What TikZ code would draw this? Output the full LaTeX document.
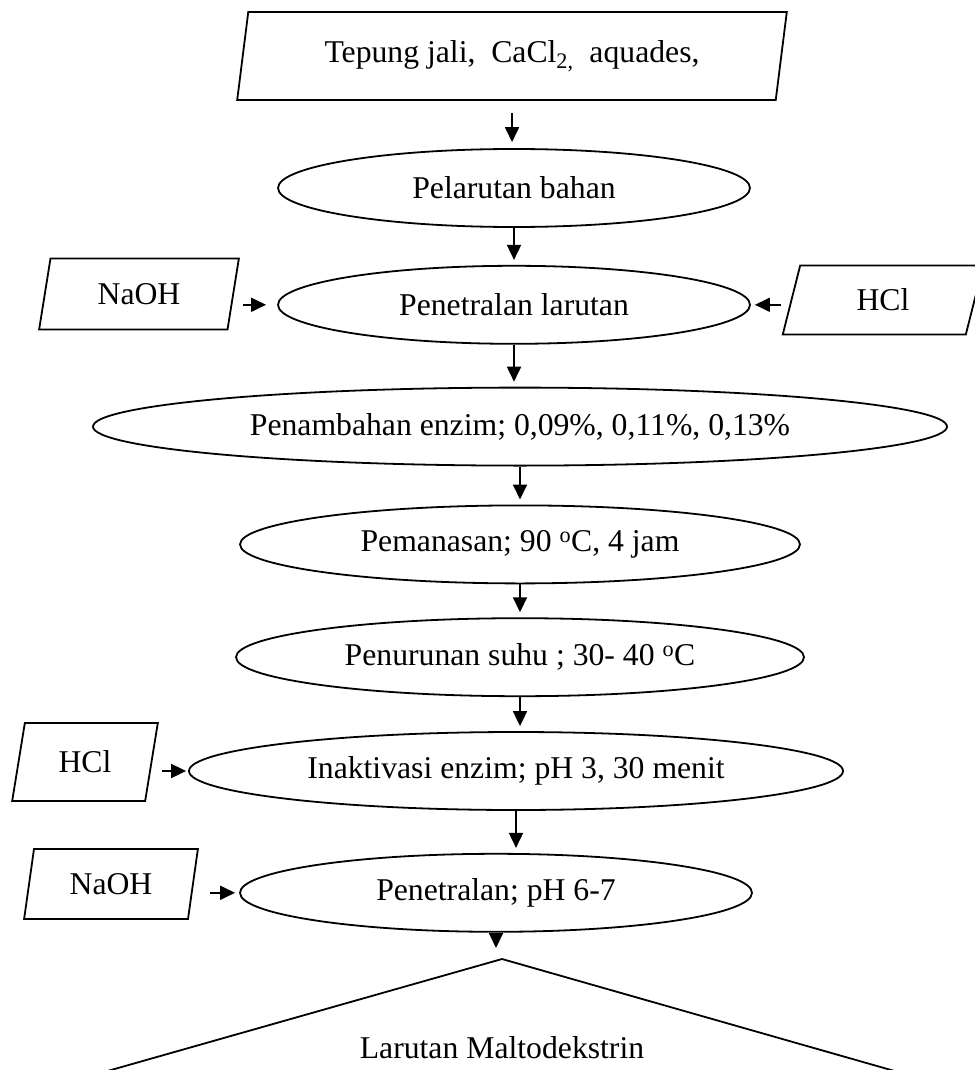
\documentclass[tikz,border=0pt]{standalone}
\usepackage{fontspec}
\setmainfont{Liberation Serif}
\usetikzlibrary{shapes.geometric, arrows.meta, positioning}

\begin{document}
\begin{tikzpicture}[
			x=1pt, y=-1pt,
			every node/.style={font=\fontsize{31.7pt}{38pt}\selectfont, inner sep=0pt},
			proses/.style={draw, ellipse, line width=1.8pt, minimum height=78pt},
			bahan/.style={draw, trapezium, trapezium left angle=76, trapezium right angle=104, trapezium stretches=true, line width=1.8pt},
			panah/.style={-{Triangle[length=15pt,width=14pt]}, line width=1.8pt}
		]
			\useasboundingbox (0,0) rectangle (974,1070);

			\node (input) [bahan, minimum width=552pt, minimum height=88pt] at (512,56) {Tepung jali,~ CaCl\textsubscript{2,}~ aquades,};
			\node (pelarutan) [proses, minimum width=472pt] at (514,188) {Pelarutan bahan};
			\node (penetralan) [proses, minimum width=472pt, below=37pt of pelarutan] {Penetralan larutan};
			\node (penambahan) [proses, minimum width=854pt, below=42pt of penetralan, xshift=6pt] {Penambahan enzim; 0,09\%, 0,11\%, 0,13\%};
			\node (pemanasan) [proses, minimum width=560pt, below=38pt of penambahan] {Pemanasan; 90 \textsuperscript{o}C, 4 jam};
			\node (penurunan) [proses, minimum width=568pt, below=33pt of pemanasan] {Penurunan suhu ; 30- 40 \textsuperscript{o}C};
			\node (inaktivasi) [proses, minimum width=654pt, below=34pt of penurunan, xshift=-4pt] {Inaktivasi enzim; pH 3, 30 menit};
			\node (penetralanpH) [proses, minimum width=512pt, below=42pt of inaktivasi, xshift=-20pt] {Penetralan; pH 6-7};

			\node (naohA) [bahan, minimum width=200pt, minimum height=71pt] at (139,294) {NaOH};
			\node (hclA) [bahan, minimum width=201pt, minimum height=69pt] at (883,300) {HCl};
			\node (hclB) [bahan, minimum width=146pt, minimum height=78pt] at (85,762) {HCl};
			\node (naohB) [bahan, minimum width=174pt, minimum height=70pt] at (111,884) {NaOH};

			\coordinate (puncak) at (502,959);
			\draw[line width=1.8pt] (104,1072) -- (puncak) -- (898,1072);
			\node (hasil) at (502,1048) {Larutan Maltodekstrin};

			\draw[panah, shorten <=12pt, shorten >=6pt] (input.south) -- (input.south |- pelarutan.north);
			\foreach \a/\b in {pelarutan/penetralan, penetralan/penambahan, penambahan/pemanasan, pemanasan/penurunan, penurunan/inaktivasi, inaktivasi/penetralanpH}
				\draw[panah, shorten >=5pt] (\a.south) -- (\a.south |- \b.north);
			\draw[panah, shorten >=11pt] (penetralanpH.south) -- (penetralanpH.south |- puncak);

			\draw[panah, shorten <=9pt, shorten >=11pt] (naohA.east |- penetralan.west) -- (penetralan.west);
			\draw[panah, shorten <=10pt, shorten >=4pt] (hclA.west |- penetralan.east) -- (penetralan.east);
			\draw[panah, shorten <=10pt, shorten >=2pt] (hclB.east |- inaktivasi.west) -- (inaktivasi.west);
			\draw[panah, shorten <=16pt, shorten >=4pt] (naohB.east |- penetralanpH.west) -- (penetralanpH.west);
		\end{tikzpicture}
\end{document}
